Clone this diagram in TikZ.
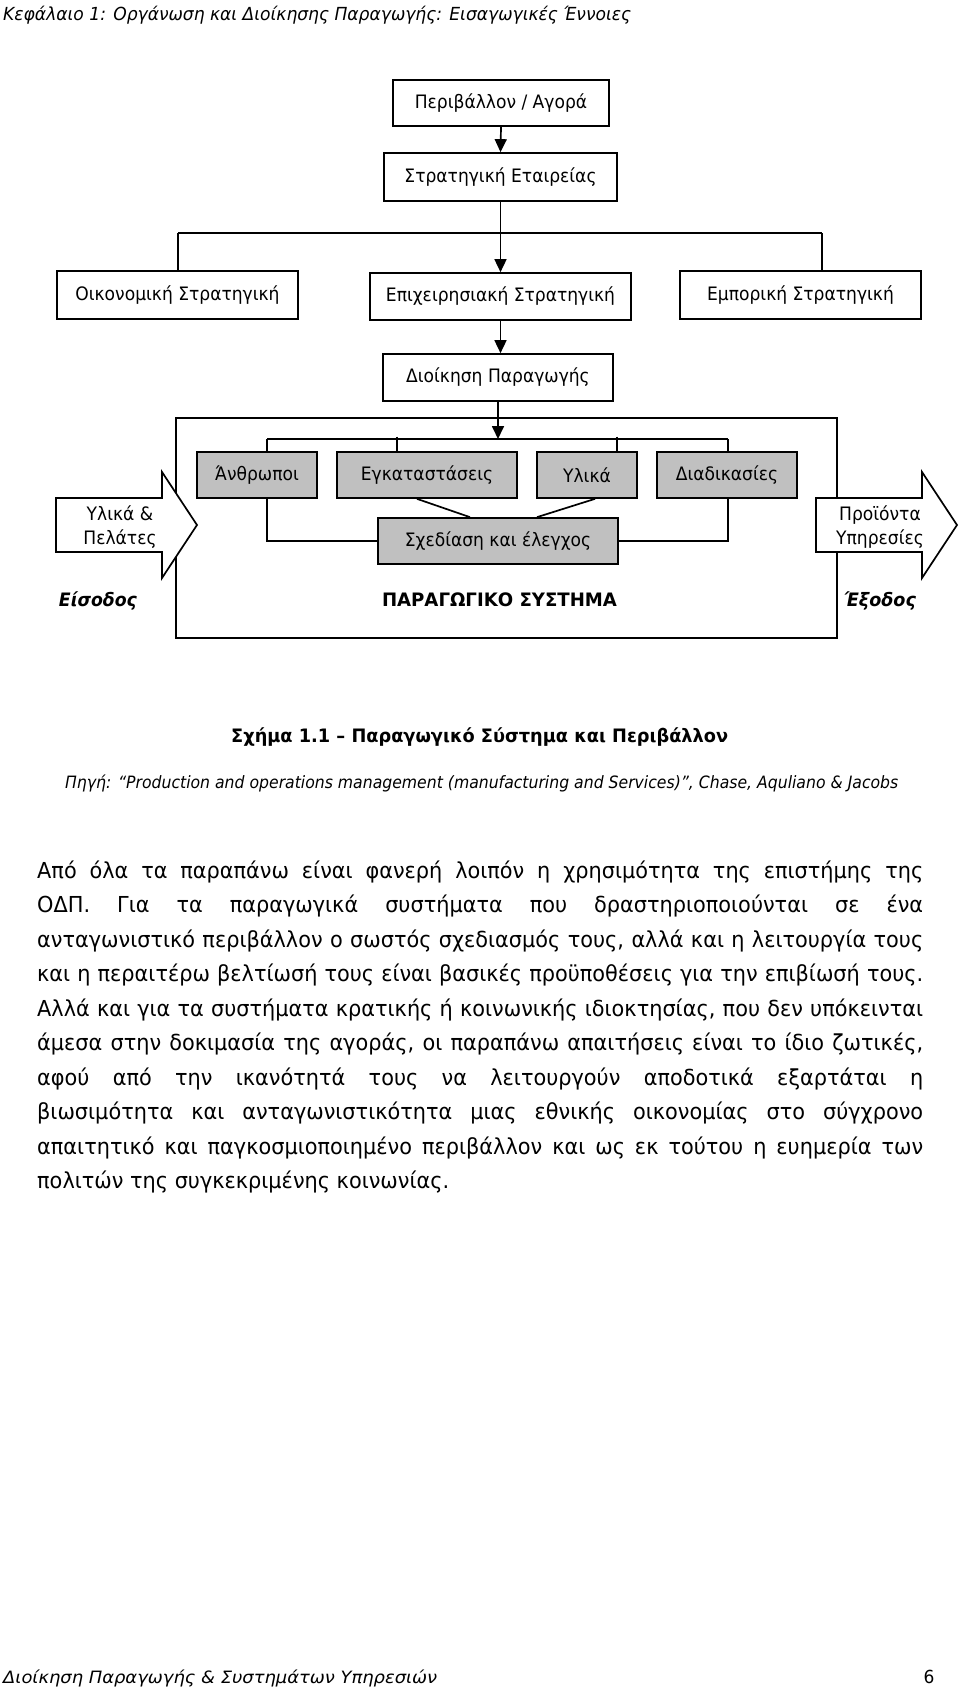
\documentclass[tikz,border=0pt]{standalone}
\usepackage{fontspec}
\usepackage{graphicx}
\setmainfont{DejaVu Sans}
\usetikzlibrary{arrows.meta,calc}
\definecolor{boxgray}{RGB}{192,192,192}
\newlength\probea
\newlength\probeb
\settowidth\probea{\fontsize{22}{26}\selectfont πολιτών της συγκεκριμένης κοινωνίας.}
\settowidth\probeb{\fontsize{18.5}{22}\selectfont Σχεδίαση και έλεγχοςΔιοίκηση Παραγωγής}
\pgfmathsetmacro\bodysx{412/\probea}
\pgfmathsetmacro\labsx{370/\probeb}
\edef\mkfonts{\noexpand\newfontfamily\noexpand\tah[FakeStretch=\bodysx]{DejaVu Sans}\noexpand\newfontfamily\noexpand\lab[FakeStretch=\labsx]{DejaVu Sans}}
\mkfonts
\newcommand\fitto[2]{\resizebox{#1}{\height}{#2}}
\tikzset{
  conn/.style={line width=1.7pt},
  arr/.style={conn,-{Triangle[length=13pt,width=12pt]}},
  box/.style={draw,line width=1.7pt,inner sep=0pt,font=\lab\fontsize{18.5}{22}\selectfont},
  greybox/.style={box,fill=boxgray,minimum height=46pt},
  blockarrow/.style={line width=1.7pt,fill=white,line join=miter},
  arrowtext/.style={inner sep=0pt,align=center,font=\lab\fontsize{18.5}{24}\selectfont},
  plain/.style={inner sep=0pt},
  bodytext/.style={inner sep=0pt,anchor=base west,font=\tah\fontsize{22}{26}\selectfont},
}
\begin{document}
\begin{tikzpicture}[x=1pt,y=-1pt]
\useasboundingbox (0,0) rectangle (960,1690);
\fill[white] (0,0) rectangle (960,1690);

% header
\node[plain,anchor=base west,font=\tah\fontsize{18}{20}\selectfont\itshape] (header) at (3,20)
  {\fitto{628pt}{Κεφάλαιο 1: Οργάνωση και Διοίκησης Παραγωγής: Εισαγωγικές Έννοιες}};

% top hierarchy
\node[box,minimum width=216pt,minimum height=46pt] (env) at (501,103) {Περιβάλλον / Αγορά};
\node[box,minimum width=233pt,minimum height=48pt] (strat) at (500.5,177) {Στρατηγική Εταιρείας};
\node[box,minimum width=241pt,minimum height=48pt] (oik) at (177.5,295) {Οικονομική Στρατηγική};
\node[box,minimum width=261pt,minimum height=47pt] (epix) at (500.5,296.5) {Επιχειρησιακή Στρατηγική};
\node[box,minimum width=241pt,minimum height=48pt] (emp) at (800.5,295) {Εμπορική Στρατηγική};
\node[box,minimum width=230pt,minimum height=47pt] (dioik) at (498,377.5) {Διοίκηση Παραγωγής};

\draw[arr] (env.south) -- (strat.north);
\coordinate (sbar) at (500.5,233);
\coordinate (sbarL) at (178,233);
\coordinate (sbarR) at (822,233);
\draw[conn] (strat.south) -- (sbar);
\draw[conn] (sbarL) -- (sbarR);
\draw[conn] (sbarL) -- (sbarL |- oik.north);
\draw[conn] (sbarR) -- (sbarR |- emp.north);
\draw[arr] (sbar) -- (sbar |- epix.north);
\draw[arr] (epix.south) -- (epix.south |- dioik.north);

% production system frame
\node[draw,line width=1.7pt,inner sep=0pt,minimum width=661pt,minimum height=220pt] (frame) at (506.5,528) {};

% inner boxes
\node[greybox,minimum width=120pt] (anth) at (257,475) {Άνθρωποι};
\node[greybox,minimum width=180pt] (egk) at (427,475) {Εγκαταστάσεις};
\node[greybox,minimum width=100pt] (ylika) at (587,475) {Υλικά};
\node[greybox,minimum width=140pt] (diad) at (727,475) {Διαδικασίες};
\node[greybox,minimum width=240pt] (sxed) at (498,541) {Σχεδίαση και έλεγχος};

\coordinate (ibarL) at (267,439);
\coordinate (ibarR) at (728,439);
\coordinate (t1) at (397,436.5);
\coordinate (t2) at (617,436.5);
\draw[conn] (ibarL) -- (ibarR);
\draw[arr] (dioik.south) -- (dioik.south |- ibarL);
\draw[conn] (ibarL) -- (ibarL |- anth.north);
\draw[conn] (t1) -- (t1 |- egk.north);
\draw[conn] (t2) -- (t2 |- ylika.north);
\draw[conn] (ibarR) -- (ibarR |- diad.north);

\coordinate (la) at (267,541);
\coordinate (ra) at (728,541);
\draw[conn] (la |- anth.south) -- (la) -- (sxed.west);
\draw[conn] (ra |- diad.south) -- (ra) -- (sxed.east);
\draw[conn] ($(egk.south)+(-10,0)$) -- ($(sxed.north)+(-28,0)$);
\draw[conn] ($(ylika.south)+(8,0)$) -- ($(sxed.north)+(39,0)$);

% block arrows
\draw[blockarrow] (56,498) -- (162,498) -- (162,472) -- (197,525) -- (162,578) -- (162,552) -- (56,552) -- cycle;
\draw[blockarrow] (816,498) -- (922,498) -- (922,472) -- (957,525) -- (922,578) -- (922,552) -- (816,552) -- cycle;
\node[arrowtext] (inputtxt) at (120,527) {Υλικά \&\\Πελάτες};
\node[arrowtext] (outputtxt) at (880,527) {Προϊόντα\\Υπηρεσίες};

% labels under the boxes
\node[plain,anchor=base,font=\lab\fontsize{18.5}{22}\selectfont\bfseries\itshape] (eisodos) at (98,606) {\fitto{78pt}{Είσοδος}};
\node[plain,anchor=base,font=\lab\fontsize{18.5}{22}\selectfont\bfseries] (system) at (499.5,606) {\fitto{235pt}{ΠΑΡΑΓΩΓΙΚΟ ΣΥΣΤΗΜΑ}};
\node[plain,anchor=base,font=\lab\fontsize{18.5}{22}\selectfont\bfseries\itshape] (exodos) at (880,606) {\fitto{72pt}{Έξοδος}};

% caption and source
\node[plain,anchor=base west,font=\lab\fontsize{18.5}{22}\selectfont\bfseries] (caption) at (231,742)
  {\fitto{497pt}{Σχήμα 1.1 – Παραγωγικό Σύστημα και Περιβάλλον}};
\node[plain,anchor=base west,font=\lab\fontsize{17}{20}\selectfont\itshape] (source) at (65,788)
  {\fitto{833pt}{Πηγή: “Production and operations management (manufacturing and Services)”, Chase, Aquliano \& Jacobs}};

% body text
\node[bodytext] (l1) at (37,878) {\makebox[886pt][s]{Από όλα τα παραπάνω είναι φανερή λοιπόν η χρησιμότητα της επιστήμης της}};
\node[bodytext] (l2) at (37,912.5) {\makebox[886pt][s]{ΟΔΠ. Για τα παραγωγικά συστήματα που δραστηριοποιούνται σε ένα}};
\node[bodytext] (l3) at (37,947) {\makebox[886pt][s]{ανταγωνιστικό περιβάλλον ο σωστός σχεδιασμός τους, αλλά και η λειτουργία τους}};
\node[bodytext] (l4) at (37,981.5) {\makebox[886pt][s]{και η περαιτέρω βελτίωσή τους είναι βασικές προϋποθέσεις για την επιβίωσή τους.}};
\node[bodytext] (l5) at (37,1016) {\makebox[886pt][s]{Αλλά και για τα συστήματα κρατικής ή κοινωνικής ιδιοκτησίας, που δεν υπόκεινται}};
\node[bodytext] (l6) at (37,1050.5) {\makebox[886pt][s]{άμεσα στην δοκιμασία της αγοράς, οι παραπάνω απαιτήσεις είναι το ίδιο ζωτικές,}};
\node[bodytext] (l7) at (37,1085) {\makebox[886pt][s]{αφού από την ικανότητά τους να λειτουργούν αποδοτικά εξαρτάται η}};
\node[bodytext] (l8) at (37,1119.5) {\makebox[886pt][s]{βιωσιμότητα και ανταγωνιστικότητα μιας εθνικής οικονομίας στο σύγχρονο}};
\node[bodytext] (l9) at (37,1154) {\makebox[886pt][s]{απαιτητικό και παγκοσμιοποιημένο περιβάλλον και ως εκ τούτου η ευημερία των}};
\node[bodytext] (l10) at (37,1188.5) {πολιτών της συγκεκριμένης κοινωνίας.};

% footer
\node[plain,anchor=base west,font=\tah\fontsize{17}{20}\selectfont\itshape] (footer) at (3,1683)
  {\fitto{434pt}{Διοίκηση Παραγωγής \& Συστημάτων Υπηρεσιών}};
\node[plain,anchor=base,font=\tah\fontsize{18}{20}\selectfont] (pagenum) at (929,1683) {6};
\end{tikzpicture}
\end{document}
